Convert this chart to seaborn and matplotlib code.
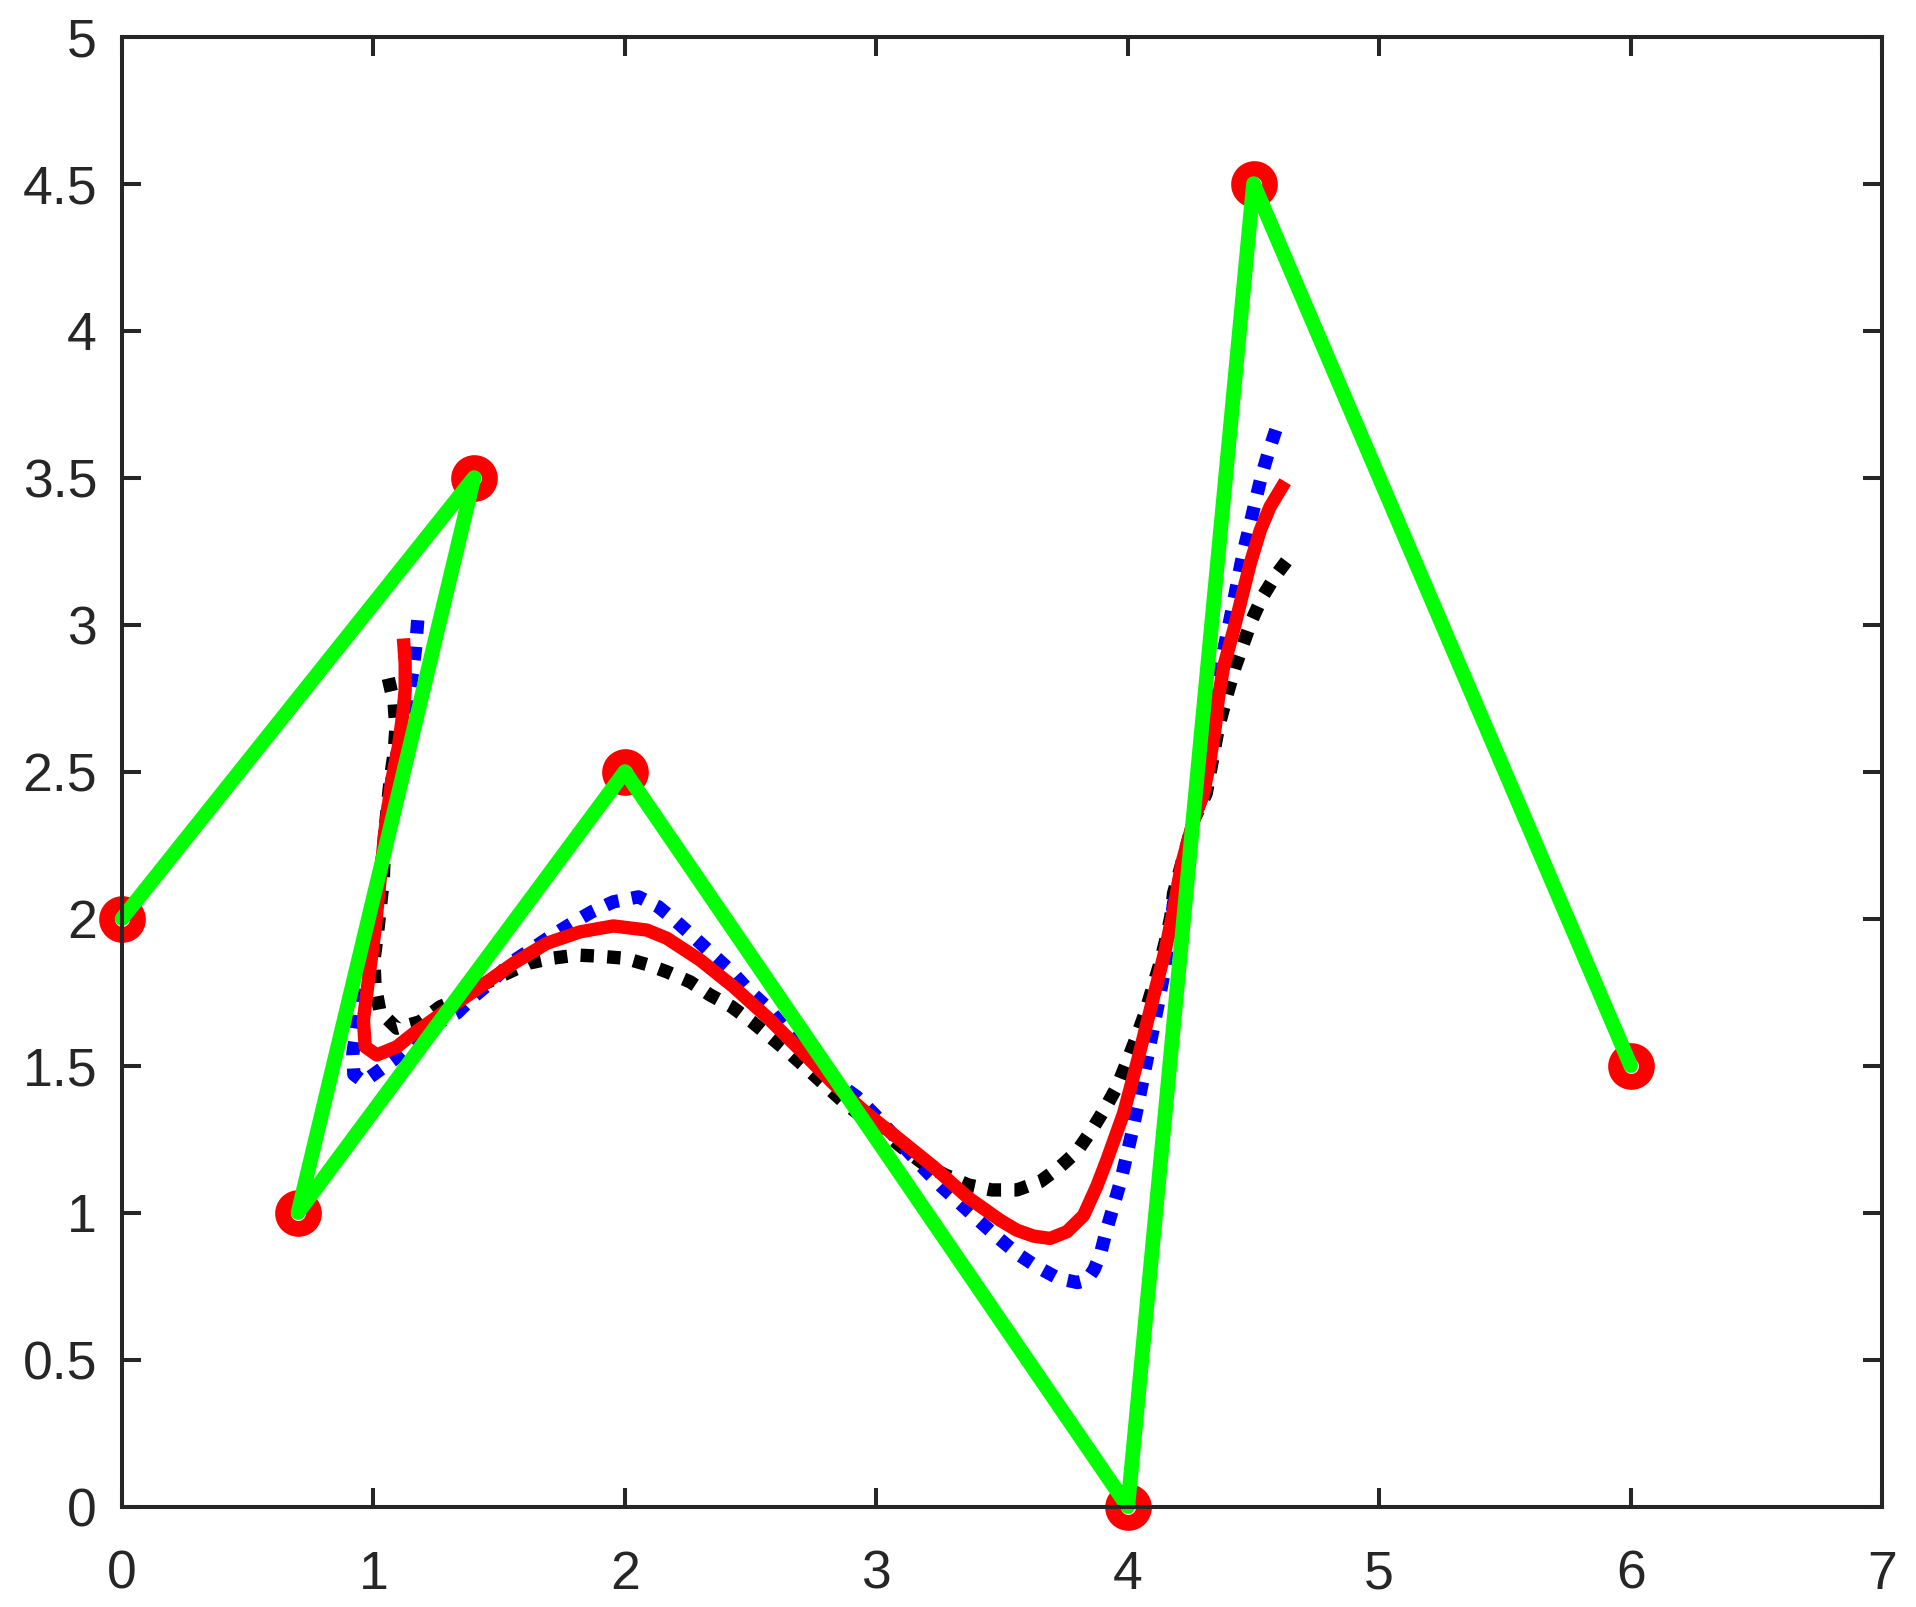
import numpy as np
import pandas as pd
import matplotlib
matplotlib.use('Agg')
import matplotlib.pyplot as plt
import seaborn as sns

# control polygon
cx = [0, 1.4, 0.7, 2, 4, 4.5, 6]
cy = [2, 3.5, 1, 2.5, 0, 4.5, 1.5]

# red solid curve
rx = [1.119, 1.126, 1.126, 1.117, 1.099, 1.073, 1.046, 1.026, 1.006, 0.980, 0.960, 0.967, 1.013, 1.093,
      1.159, 1.291, 1.424, 1.557, 1.689, 1.822, 1.954, 2.087, 2.167, 2.299, 2.432, 2.564, 2.697, 2.829,
      2.962, 3.095, 3.227, 3.360, 3.492, 3.559, 3.625, 3.691, 3.758, 3.824, 3.877, 3.917, 3.950, 3.983,
      4.036, 4.076, 4.116, 4.149, 4.182, 4.215, 4.262, 4.301, 4.325, 4.348, 4.361, 4.381, 4.421, 4.454,
      4.487, 4.527, 4.566, 4.626]
ry = [2.953, 2.868, 2.777, 2.698, 2.584, 2.471, 2.301, 2.131, 1.961, 1.791, 1.655, 1.564, 1.536, 1.564,
      1.609, 1.689, 1.768, 1.848, 1.916, 1.955, 1.975, 1.961, 1.933, 1.859, 1.768, 1.666, 1.553, 1.439,
      1.337, 1.247, 1.156, 1.054, 0.974, 0.940, 0.920, 0.912, 0.935, 0.990, 1.090, 1.179, 1.258, 1.337,
      1.507, 1.644, 1.780, 1.893, 2.029, 2.188, 2.335, 2.426, 2.528, 2.652, 2.754, 2.856, 2.981, 3.095,
      3.208, 3.321, 3.401, 3.486]

# blue dotted curve
bx = [1.176, 1.168, 1.156, 1.139, 1.119, 1.099, 1.073, 1.046, 1.026, 1.000, 0.967, 0.934, 0.918, 0.922,
      0.960, 1.006, 1.079, 1.159, 1.238, 1.331, 1.398, 1.477, 1.543, 1.623, 1.702, 1.789, 1.868, 1.954,
      2.054, 2.133, 2.206, 2.279, 2.352, 2.425, 2.491, 2.564, 2.697, 2.829, 2.922, 2.989, 3.062, 3.121,
      3.194, 3.260, 3.333, 3.406, 3.479, 3.559, 3.638, 3.724, 3.800, 3.837, 3.865, 3.890, 3.915, 3.945,
      3.973, 3.996, 4.019, 4.040, 4.060, 4.080, 4.100, 4.120, 4.140, 4.155, 4.169, 4.182, 4.262, 4.301,
      4.339, 4.368, 4.401, 4.421, 4.440, 4.460, 4.484, 4.507, 4.531, 4.560, 4.593]
by = [3.015, 2.924, 2.839, 2.754, 2.669, 2.584, 2.471, 2.301, 2.131, 1.961, 1.791, 1.632, 1.541, 1.470,
      1.445, 1.473, 1.519, 1.581, 1.638, 1.678, 1.734, 1.791, 1.848, 1.893, 1.938, 1.984, 2.023, 2.057,
      2.074, 2.040, 1.989, 1.933, 1.876, 1.819, 1.757, 1.700, 1.564, 1.451, 1.394, 1.337, 1.269, 1.213,
      1.145, 1.088, 1.031, 0.974, 0.918, 0.861, 0.816, 0.776, 0.762, 0.770, 0.805, 0.855, 0.940, 1.028,
      1.111, 1.196, 1.281, 1.366, 1.451, 1.536, 1.621, 1.706, 1.797, 1.882, 1.967, 2.052, 2.335, 2.426,
      2.652, 2.856, 2.993, 3.078, 3.163, 3.248, 3.333, 3.418, 3.503, 3.588, 3.673]

# black dotted curve
kx = [1.059, 1.082, 1.089, 1.082, 1.066, 1.046, 1.039, 1.026, 1.016, 1.002, 1.006, 1.026, 1.093, 1.185,
      1.265, 1.358, 1.444, 1.530, 1.616, 1.709, 1.809, 1.901, 2.001, 2.094, 2.167, 2.259, 2.339, 2.425,
      2.505, 2.584, 2.657, 2.730, 2.803, 2.883, 2.962, 3.035, 3.115, 3.194, 3.274, 3.366, 3.459, 3.559,
      3.651, 3.731, 3.797, 3.857, 3.910, 3.957, 3.996, 4.033, 4.067, 4.096, 4.126, 4.151, 4.171, 4.182,
      4.262, 4.312, 4.361, 4.397, 4.427, 4.460, 4.493, 4.536, 4.589, 4.649]
ky = [2.817, 2.732, 2.647, 2.562, 2.471, 2.301, 2.131, 2.029, 1.950, 1.859, 1.774, 1.683, 1.627, 1.649,
      1.700, 1.734, 1.780, 1.814, 1.848, 1.865, 1.876, 1.872, 1.865, 1.842, 1.819, 1.785, 1.740, 1.700,
      1.649, 1.593, 1.541, 1.485, 1.428, 1.366, 1.315, 1.269, 1.213, 1.162, 1.128, 1.094, 1.077, 1.077,
      1.105, 1.156, 1.207, 1.281, 1.355, 1.428, 1.511, 1.593, 1.674, 1.757, 1.842, 1.927, 2.006, 2.086,
      2.335, 2.426, 2.652, 2.768, 2.856, 2.936, 3.015, 3.095, 3.168, 3.236]

xticks = [0, 1, 2, 3, 4, 5, 6, 7]
yticks = [0, 0.5, 1, 1.5, 2, 2.5, 3, 3.5, 4, 4.5, 5]
ylabels = ['0', '0.5', '1', '1.5', '2', '2.5', '3', '3.5', '4', '4.5', '5']

sns.set_theme(style='white')
plt.rcParams['font.family'] = ['Liberation Sans', 'DejaVu Sans']

fig = plt.figure(figsize=(19.16, 16.07), dpi=100)
ax = fig.add_axes([0.0637, 0.0625, 0.9186, 0.9147])

lw = 9.6
sns.lineplot(x=kx, y=ky, sort=False, estimator=None, color='black', lw=lw,
             linestyle=(0, (1, 1)), dash_capstyle='butt', ax=ax, zorder=2)
sns.lineplot(x=bx, y=by, sort=False, estimator=None, color='blue', lw=lw,
             linestyle=(0, (1, 1)), dash_capstyle='butt', ax=ax, zorder=2)
sns.lineplot(x=rx, y=ry, sort=False, estimator=None, color='red', lw=lw,
             solid_capstyle='butt', solid_joinstyle='round', ax=ax, zorder=2.5)

# control points (rings) and control polygon
sns.lineplot(x=cx, y=cy, sort=False, estimator=None, linestyle='', marker='o', ax=ax, zorder=3)
ring = ax.lines[-1]
ring.set_markersize(22.2)
ring.set_markerfacecolor('none')
ring.set_markeredgecolor('red')
ring.set_markeredgewidth(11.4)
ring.set_clip_on(False)

sns.lineplot(x=cx, y=cy, sort=False, estimator=None, color='#00ff00', lw=10.6,
             solid_joinstyle='round', solid_capstyle='round', ax=ax, zorder=4)
ax.lines[-1].set_clip_on(False)

ax.set_xlim(0, 7)
ax.set_ylim(0, 5)
ax.set_xticks(xticks)
ax.set_xticklabels([str(t) for t in xticks])
ax.set_yticks(yticks)
ax.set_yticklabels(ylabels)

for s in ax.spines.values():
    s.set_visible(True)
    s.set_color('#262626')
    s.set_linewidth(2.9)
    s.set_zorder(5)

ax.tick_params(axis='both', direction='in', length=13.7, width=2.9, color='#262626',
               labelcolor='#262626', labelsize=38.5, top=True, right=True, bottom=True, left=True)
ax.tick_params(axis='x', pad=31)
ax.tick_params(axis='y', pad=18)
ax.set_xlabel('')
ax.set_ylabel('')
if ax.get_legend() is not None:
    ax.get_legend().remove()

fig.savefig('out.png', dpi=100, facecolor='white')
